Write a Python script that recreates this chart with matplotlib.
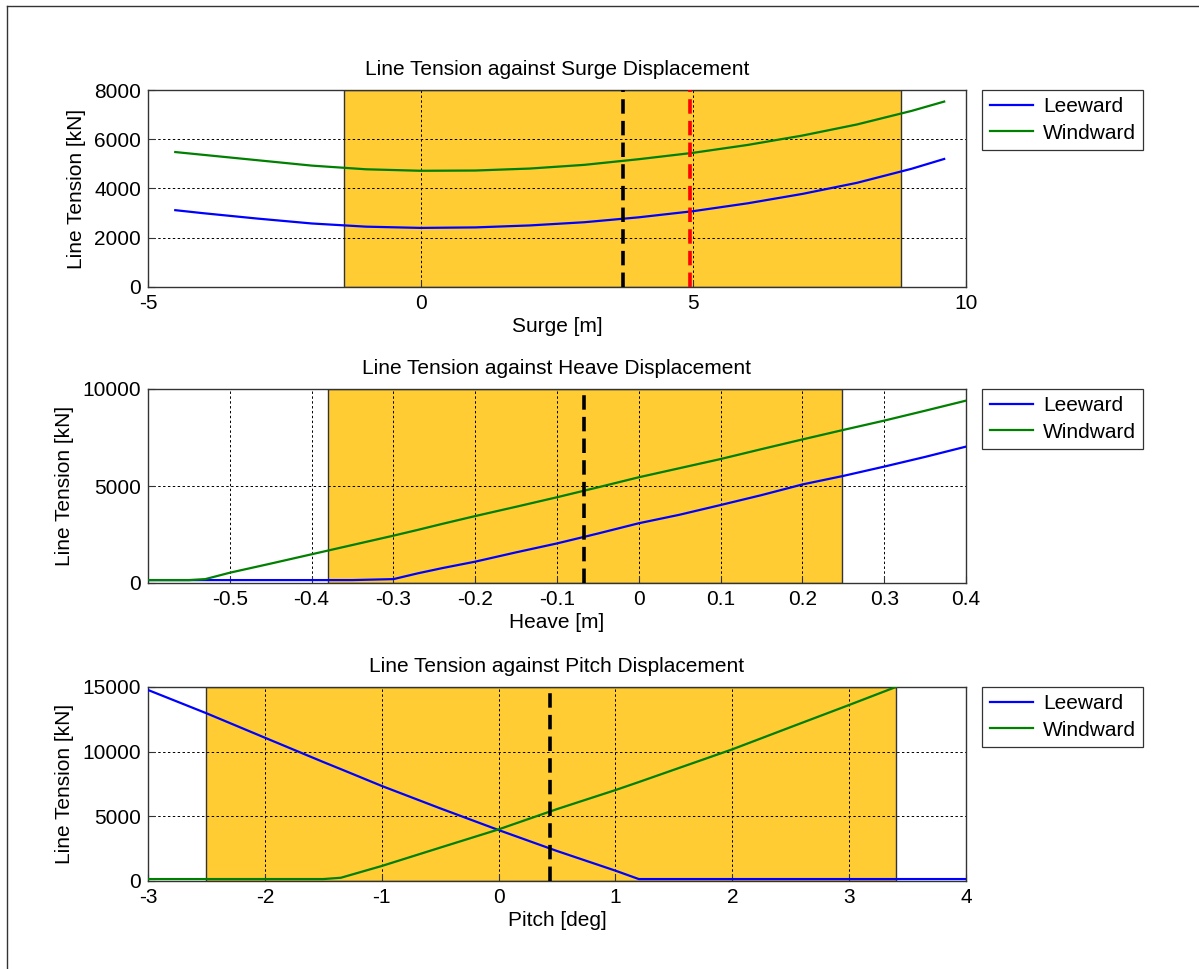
import matplotlib
matplotlib.use("Agg")
import matplotlib.pyplot as plt
from matplotlib.lines import Line2D
from matplotlib.ticker import FormatStrFormatter

plt.rcParams['font.family'] = ['Liberation Sans', 'DejaVu Sans']
plt.rcParams['axes.unicode_minus'] = False

# surge
surge_x = [-4.5, -4, -3, -2, -1, 0, 1, 2, 3, 4, 5, 6, 7, 8, 9, 9.6]
surge_lee = [3120, 3000, 2780, 2580, 2450, 2400, 2420, 2500, 2630, 2830, 3080, 3400, 3780, 4230, 4800, 5200]
surge_win = [5480, 5370, 5150, 4930, 4780, 4720, 4730, 4810, 4960, 5190, 5450, 5770, 6150, 6600, 7150, 7530]
surge_band = (-1.4, 8.8)
surge_mean = 3.71
surge_limit = 4.93

# heave
heave_x = [-0.6, -0.55, -0.53, -0.5, -0.45, -0.4, -0.35, -0.3, -0.27, -0.24, -0.2, -0.15, -0.1,
           -0.05, 0, 0.05, 0.1, 0.15, 0.2, 0.25, 0.3, 0.35, 0.4]
heave_lee = [150, 150, 150, 150, 150, 150, 150, 200, 500, 770, 1100, 1580, 2040,
             2550, 3080, 3520, 4020, 4530, 5080, 5520, 6000, 6500, 7030]
heave_win = [150, 150, 200, 530, 1000, 1480, 1960, 2440, 2740, 3050, 3450, 3930, 4420,
             4930, 5450, 5920, 6390, 6900, 7400, 7890, 8370, 8880, 9400]
heave_band = (-0.38, 0.248)
heave_mean = -0.067

# pitch
pitch_x = [-3, -2.5, -2, -1.5, -1.35, -1, -0.5, 0, 0.5, 1, 1.2, 1.5, 2, 2.5, 3, 3.4, 4]
pitch_lee = [14770, 12970, 11080, 9200, 8650, 7350, 5620, 3940, 2320, 800, 150, 150, 150, 150, 150, 150, 150]
pitch_win = [150, 150, 150, 150, 250, 1160, 2580, 3990, 5560, 7030, 7650, 8600, 10180, 11900, 13610, 15000, None]
pitch_band = (-2.5, 3.4)
pitch_mean = 0.44

W, H = 1199, 969
fig = plt.figure(figsize=(W / 100, H / 100), dpi=100)

left = 148 / W
width = 818 / W
boxes = [(90, 287), (389, 583), (687, 881)]

panels = [
    dict(x=surge_x, lee=surge_lee, win=surge_win, band=surge_band, mean=surge_mean, limit=surge_limit,
         xlim=(-5, 10), ylim=(0, 8000), xticks=[-5, 0, 5, 10], yticks=[0, 2000, 4000, 6000, 8000],
         title='Line Tension against Surge Displacement', xlabel='Surge [m]'),
    dict(x=heave_x, lee=heave_lee, win=heave_win, band=heave_band, mean=heave_mean, limit=None,
         xlim=(-0.6, 0.4), ylim=(0, 10000), xticks=[-0.5, -0.4, -0.3, -0.2, -0.1, 0, 0.1, 0.2, 0.3, 0.4],
         yticks=[0, 5000, 10000],
         title='Line Tension against Heave Displacement', xlabel='Heave [m]'),
    dict(x=pitch_x, lee=pitch_lee, win=pitch_win, band=pitch_band, mean=pitch_mean, limit=None,
         xlim=(-3, 4), ylim=(0, 15000), xticks=[-3, -2, -1, 0, 1, 2, 3, 4], yticks=[0, 5000, 10000, 15000],
         title='Line Tension against Pitch Displacement', xlabel='Pitch [deg]'),
]

for (top, bot), p in zip(boxes, panels):
    ax = fig.add_axes([left, 1 - bot / H, width, (bot - top) / H])
    ax.axvspan(p['band'][0], p['band'][1], facecolor='#FFCC33', edgecolor='#333333', lw=1.0, zorder=1)
    xs = [x for x, y in zip(p['x'], p['win']) if y is not None]
    ws = [y for y in p['win'] if y is not None]
    ax.plot(p['x'], p['lee'], color='#0000FF', lw=1.6, label='Leeward', zorder=3)
    ax.plot(xs, ws, color='#008000', lw=1.6, label='Windward', zorder=3)
    ax.axvline(p['mean'], color='black', lw=2.6, ls=(0, (4, 2)), zorder=4)
    if p['limit'] is not None:
        ax.axvline(p['limit'], color='red', lw=2.6, ls=(0, (4, 2)), zorder=4)
    ax.set_xlim(*p['xlim'])
    ax.set_ylim(*p['ylim'])
    ax.set_xticks(p['xticks'])
    ax.set_yticks(p['yticks'])
    ax.xaxis.set_major_formatter(FormatStrFormatter('%g'))
    ax.yaxis.set_major_formatter(FormatStrFormatter('%g'))
    ax.grid(True, color='black', ls=(0, (2.5, 2.5)), lw=0.7)
    ax.tick_params(direction='in', length=5, labelsize=15, pad=5, color='#333333')
    for s in ax.spines.values():
        s.set_color('#333333')
        s.set_linewidth(1.0)
    ax.set_title(p['title'], fontsize=15, pad=11)
    ax.set_xlabel(p['xlabel'], fontsize=15, labelpad=3)
    ax.set_ylabel('Line Tension [kN]', fontsize=15, labelpad=6)
    leg = ax.legend(loc='upper left', bbox_to_anchor=(1.02, 1.0), borderaxespad=0, fontsize=15,
                    fancybox=False, edgecolor='#333333', framealpha=1, handlelength=2.1,
                    handletextpad=0.45, labelspacing=0.35, borderpad=0.35)
    leg.get_frame().set_linewidth(0.9)

# figure border (left and top)
fig.add_artist(Line2D([7 / W, 7 / W], [0, 1 - 6 / H], transform=fig.transFigure, color='#333333', lw=1))
fig.add_artist(Line2D([7 / W, 1], [1 - 6 / H, 1 - 6 / H], transform=fig.transFigure, color='#333333', lw=1))

fig.savefig('out.png', dpi=100)
